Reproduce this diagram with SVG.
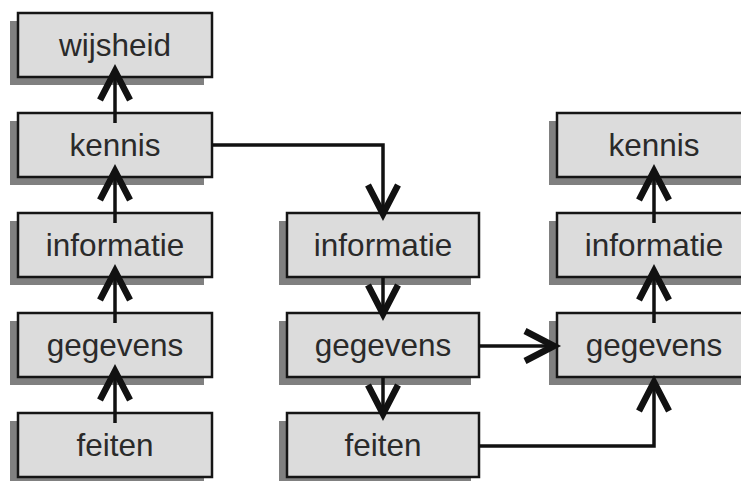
<svg xmlns="http://www.w3.org/2000/svg" width="741" height="481" viewBox="0 0 741 481">
  <style>
    .shadow { fill: #808080; }
    .box { fill: #dcdcdc; stroke: #151515; stroke-width: 2.5; }
    .label { font-family: "Liberation Sans", Arial, sans-serif; font-size: 31.5px; fill: #2a2a2a; text-anchor: middle; }
    .wire { fill: none; stroke: #111; stroke-width: 3.5; marker-end: url(#chev); }
  </style>
  <defs>
    <marker id="chev" viewBox="0 0 50 50" refX="38" refY="25" markerWidth="50" markerHeight="50" markerUnits="userSpaceOnUse" orient="auto" overflow="visible">
      <path d="M9 10 L38 25 L9 40" fill="none" stroke="#111" stroke-width="6.5" stroke-linejoin="miter"/>
    </marker>
  </defs>
  <rect width="741" height="481" fill="#fff"/>

  <!-- left column -->
  <g id="wijsheid">
    <rect class="shadow" x="10" y="21" width="194" height="64"/>
    <rect class="box" x="18" y="13" width="194" height="64"/>
    <text class="label" x="115" y="56">wijsheid</text>
  </g>
  <g id="kennis-1">
    <rect class="shadow" x="10" y="121" width="194" height="64"/>
    <rect class="box" x="18" y="113" width="194" height="64"/>
    <text class="label" x="115" y="156">kennis</text>
  </g>
  <g id="informatie-1">
    <rect class="shadow" x="10" y="221" width="194" height="64"/>
    <rect class="box" x="18" y="213" width="194" height="64"/>
    <text class="label" x="115" y="256">informatie</text>
  </g>
  <g id="gegevens-1">
    <rect class="shadow" x="10" y="321" width="194" height="64"/>
    <rect class="box" x="18" y="313" width="194" height="64"/>
    <text class="label" x="115" y="356">gegevens</text>
  </g>
  <g id="feiten-1">
    <rect class="shadow" x="10" y="421" width="194" height="64"/>
    <rect class="box" x="18" y="413" width="194" height="64"/>
    <text class="label" x="115" y="456">feiten</text>
  </g>

  <!-- middle column -->
  <g id="informatie-2">
    <rect class="shadow" x="279" y="221" width="192" height="64"/>
    <rect class="box" x="287" y="213" width="192" height="64"/>
    <text class="label" x="383" y="256">informatie</text>
  </g>
  <g id="gegevens-2">
    <rect class="shadow" x="279" y="321" width="192" height="64"/>
    <rect class="box" x="287" y="313" width="192" height="64"/>
    <text class="label" x="383" y="356">gegevens</text>
  </g>
  <g id="feiten-2">
    <rect class="shadow" x="279" y="421" width="192" height="64"/>
    <rect class="box" x="287" y="413" width="192" height="64"/>
    <text class="label" x="383" y="456">feiten</text>
  </g>

  <!-- right column -->
  <g id="kennis-3">
    <rect class="shadow" x="549" y="121" width="194" height="64"/>
    <rect class="box" x="557" y="113" width="194" height="64"/>
    <text class="label" x="654" y="156">kennis</text>
  </g>
  <g id="informatie-3">
    <rect class="shadow" x="549" y="221" width="194" height="64"/>
    <rect class="box" x="557" y="213" width="194" height="64"/>
    <text class="label" x="654" y="256">informatie</text>
  </g>
  <g id="gegevens-3">
    <rect class="shadow" x="549" y="321" width="194" height="64"/>
    <rect class="box" x="557" y="313" width="194" height="64"/>
    <text class="label" x="654" y="356">gegevens</text>
  </g>

  <!-- connectors -->
  <g id="connectors">
    <path class="wire" d="M115 123 V71"/>
    <path class="wire" d="M115 223 V171"/>
    <path class="wire" d="M115 323 V271"/>
    <path class="wire" d="M115 423 V371"/>
    <path class="wire" d="M212 145 H383 V214"/>
    <path class="wire" d="M383 277 V314"/>
    <path class="wire" d="M383 377 V414"/>
    <path class="wire" d="M479 346 H554"/>
    <path class="wire" d="M479 446 H654 V382"/>
    <path class="wire" d="M654 323 V271"/>
    <path class="wire" d="M654 223 V171"/>
  </g>
</svg>
